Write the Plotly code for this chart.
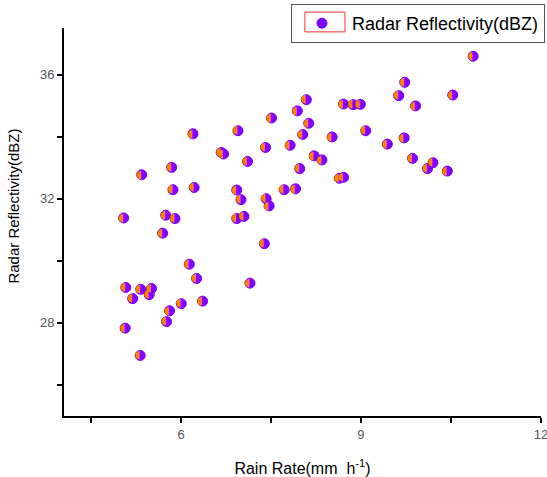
import plotly.graph_objects as go

rain_rate = [5.345, 6.20, 5.845, 5.867, 6.22, 6.67, 6.71, 6.95, 7.11, 7.51,
             7.41, 6.93, 7.00, 7.42, 7.47, 7.72, 7.91, 7.82, 7.98, 7.94,
             8.09, 8.13, 8.03, 5.045, 5.745, 5.90, 6.93, 7.05, 5.695, 7.39,
             6.14, 6.26, 7.15, 5.08, 5.33, 5.51, 5.47, 5.195, 6.005, 6.36,
             5.81, 5.76, 5.07, 5.32, 10.87, 9.73, 9.63, 10.53, 9.91, 8.71,
             8.87, 8.99, 8.52, 9.08, 9.44, 9.72, 8.22, 8.35, 9.86, 10.20,
             10.11, 10.44, 8.64, 8.71]
reflectivity = [32.77, 34.09, 33.01, 32.29, 32.36, 33.49, 33.44, 34.19, 33.20, 34.60,
                33.65, 32.28, 31.97, 32.00, 31.77, 32.29, 32.32, 33.72, 32.97, 34.83,
                35.19, 34.43, 34.07, 31.38, 31.47, 31.36, 31.36, 31.43, 30.89, 30.55,
                29.89, 29.43, 29.28, 29.14, 29.08, 29.11, 28.91, 28.78, 28.62, 28.70,
                28.39, 28.04, 27.83, 26.95, 36.59, 35.75, 35.32, 35.34, 34.99, 35.05,
                35.03, 35.04, 33.99, 34.19, 33.76, 33.96, 33.38, 33.25, 33.30, 33.16,
                32.97, 32.89, 32.66, 32.69]

x_ticks = [6, 9, 12]
y_ticks = [28, 32, 36]

PURPLE = "#8000FF"
ORANGE = "#FF8000"
FONT = "Liberation Sans, Arial, sans-serif"

fig = go.Figure()
fig.add_trace(go.Scatter(
    x=rain_rate, y=reflectivity, mode="markers",
    name="Radar Reflectivity(dBZ)",
    marker=dict(symbol="circle", size=10, color=PURPLE,
                line=dict(color=PURPLE, width=1)),
))
fig.add_trace(go.Scatter(
    x=rain_rate, y=reflectivity, mode="text", text=["◖"] * len(rain_rate),
    textposition="middle left",
    textfont=dict(color=ORANGE, size=11, family="DejaVu Sans"),
    showlegend=False, hoverinfo="skip",
))

axis_common = dict(
    showline=True, linecolor="black", linewidth=2, mirror=False,
    showgrid=False, zeroline=False,
    ticks="outside", ticklen=5, tickwidth=2, tickcolor="black",
    tickfont=dict(family=FONT, size=13, color="#555555"),
    ticklabeloverflow="allow", automargin=False,
)

fig.update_xaxes(
    range=[4.05, 12.001], tickmode="array", tickvals=x_ticks,
    minor=dict(tickvals=[4.5, 7.5, 10.5], ticks="outside", ticklen=5,
               tickwidth=2, tickcolor="black"),
    title=dict(text="Rain Rate(mm  h<sup>-1</sup>)",
               font=dict(family=FONT, size=16, color="black"), standoff=24),
    **axis_common,
)
fig.update_yaxes(
    range=[25, 37.5], tickmode="array", tickvals=y_ticks,
    minor=dict(tickvals=[26, 30, 34], ticks="outside", ticklen=5,
               tickwidth=2, tickcolor="black"),
    **axis_common,
)

fig.update_layout(
    width=547, height=477,
    margin=dict(l=64, r=6, t=28, b=61, autoexpand=False),
    plot_bgcolor="white", paper_bgcolor="white",
    showlegend=True,
    legend=dict(xref="container", yref="container",
                x=0.532, y=0.9916, xanchor="left", yanchor="top",
                bgcolor="rgba(255,255,255,0)", bordercolor="#555555", borderwidth=1,
                itemwidth=50,
                font=dict(family=FONT, size=18, color="black")),
    annotations=[dict(text="Radar Reflectivity(dBZ)", textangle=-90,
                      xref="paper", yref="paper", x=-0.105, y=0.542,
                      xanchor="center", yanchor="middle", showarrow=False,
                      font=dict(family=FONT, size=15, color="black"))],
    shapes=[dict(type="rect", xref="paper", yref="paper",
                 x0=0.505, x1=0.589, y0=0.990, y1=1.041,
                 line=dict(color="#FF3030", width=1))],
)

fig.write_html("out.html")
